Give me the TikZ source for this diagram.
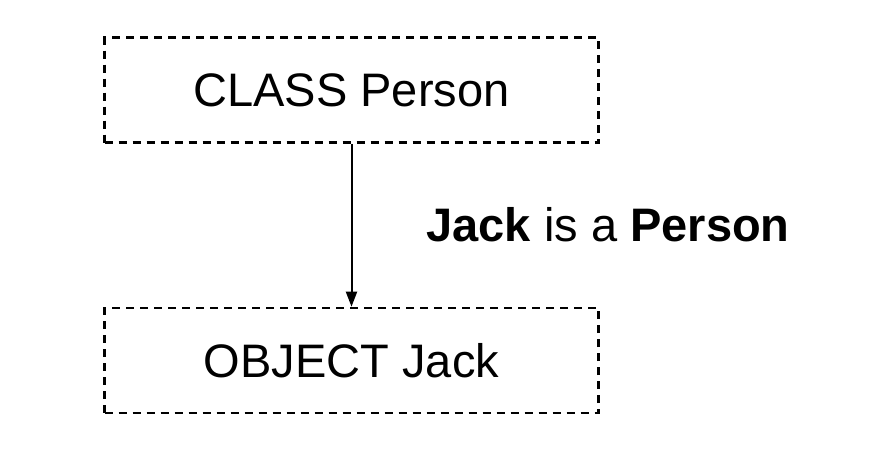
\documentclass[tikz,border=0pt]{standalone}
\usepackage{fontspec}
\setmainfont{Liberation Sans}
\usetikzlibrary{arrows.meta}
\begin{document}
\begin{tikzpicture}[x=1pt,y=-1pt,
  dbox/.style={draw=black,line width=2.6pt,dash pattern=on 8pt off 6pt,minimum width=494pt,minimum height=105pt,inner sep=0pt,font=\fontsize{47}{50}\selectfont},
  conn/.style={draw=black,line width=2pt,-{Triangle[width=11pt,length=15pt]}}]
\useasboundingbox (0,0) rectangle (882,453);
\node[dbox] (cls) at (351.5,90) {CLASS Person};
\node[dbox] (obj) at (351.5,360.5) {OBJECT Jack};
\draw[conn] (cls.south) -- (obj.north);
\node[font=\fontsize{47}{50}\selectfont,inner sep=0pt] (lbl) at (608,225) {\textbf{Jack} is a \textbf{Person}};
\end{tikzpicture}
\end{document}
